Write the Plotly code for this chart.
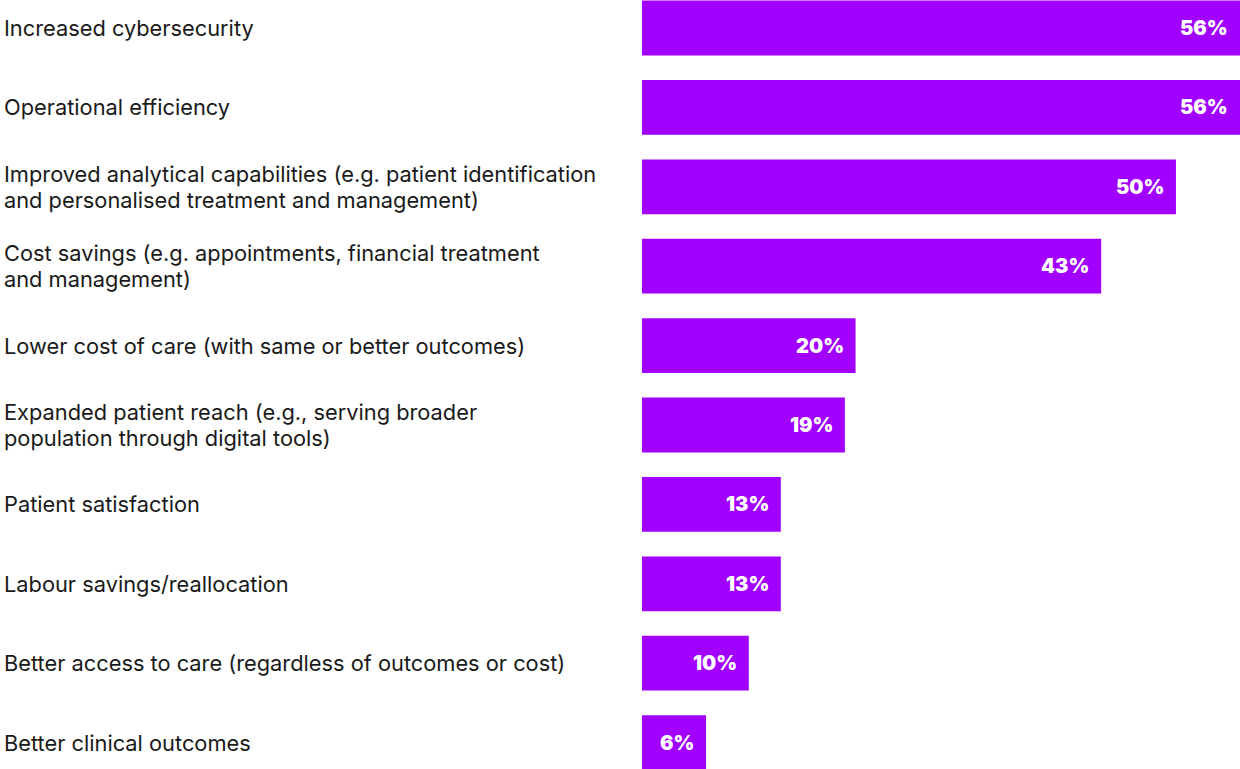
import plotly.graph_objects as go

categories = [
    "Increased cybersecurity",
    "Operational efficiency",
    "Improved analytical capabilities (e.g. patient identification<br>and personalised treatment and management)",
    "Cost savings (e.g. appointments, financial treatment<br>and management)",
    "Lower cost of care (with same or better outcomes)",
    "Expanded patient reach (e.g., serving broader<br>population through digital tools)",
    "Patient satisfaction",
    "Labour savings/reallocation",
    "Better access to care (regardless of outcomes or cost)",
    "Better clinical outcomes",
]
values = [56, 56, 50, 43, 20, 19, 13, 13, 10, 6]
value_labels = ["56%", "56%", "50%", "43%", "20%", "19%", "13%", "13%", "10%", "6%"]

W, H = 1240, 769
PURPLE = "#A100FF"
idx = list(range(len(categories)))

fig = go.Figure()
fig.add_trace(go.Bar(
    x=values, y=idx, orientation="h",
    marker=dict(color=PURPLE, line=dict(width=0)),
    width=0.69, hoverinfo="skip",
))

LINE_H = 26
ann = []
for i, (c, v, t) in enumerate(zip(categories, values, value_labels)):
    lines = c.split("<br>")
    n = len(lines)
    for k, line in enumerate(lines):
        shift = ((n - 1) / 2 - k) * LINE_H
        ann.append(dict(x=0.002, xref="paper", y=i, yref="y", text=line, showarrow=False,
                        xanchor="left", yanchor="middle", align="left", yshift=shift,
                        font=dict(family="Inter", size=21.8, color="#1a1a1a")))
    ann.append(dict(x=v, xref="x", y=i, yref="y", text=t, showarrow=False,
                    xanchor="right", yanchor="middle", xshift=-10,
                    font=dict(family="Inter", size=20, color="white", weight=900)))

pitch = 79.4
top = -28 / pitch
bottom = top + H / pitch
fig.update_layout(
    width=W, height=H,
    margin=dict(l=0, r=0, t=0, b=0),
    paper_bgcolor="white", plot_bgcolor="white",
    showlegend=False,
    xaxis=dict(domain=[642 / W, 1], range=[0, 56], visible=False, fixedrange=True),
    yaxis=dict(range=[bottom, top], visible=False, fixedrange=True),
    annotations=ann,
)
fig.write_html("out.html")
